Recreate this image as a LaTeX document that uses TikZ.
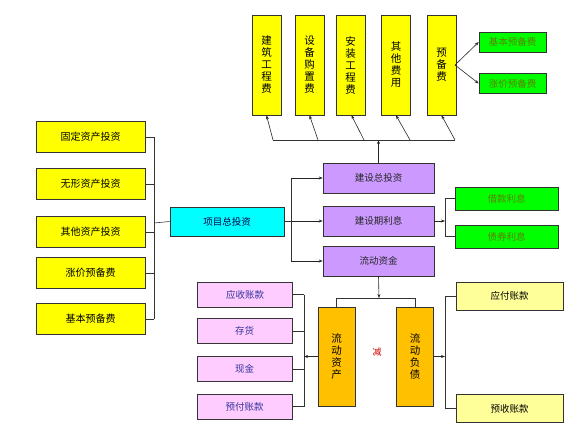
\documentclass[tikz,border=0pt]{standalone}
\usepackage{fontspec}
\newfontfamily\cjk{Noto Sans CJK SC}
\usepackage{tikz}
\usetikzlibrary{arrows.meta, positioning, calc}

\definecolor{amarillo}{HTML}{FFFF00}
\definecolor{amarilloclaro}{HTML}{FFFF99}
\definecolor{cian}{HTML}{00FFFF}
\definecolor{lila}{HTML}{CC99FF}
\definecolor{verde}{HTML}{00FF00}
\definecolor{rosa}{HTML}{FFCCFF}
\definecolor{naranja}{HTML}{FFC000}
\definecolor{textoverde}{HTML}{5F7F00}
\definecolor{textorosa}{HTML}{333399}

\begin{document}
\begin{tikzpicture}[
			x=1pt, y=-1pt,
			% estilos de cajas y flechas
			myarrow/.style={-{Stealth[length=4pt, width=3pt]}, line width=0.6pt, black!85},
			myline/.style={line width=0.6pt, black!80},
			box/.style={rectangle, draw=black!80, line width=0.6pt, inner sep=1pt, align=center, font=\cjk\fontsize{9.5}{11}\selectfont},
			costbox/.style={box, fill=amarillo, minimum width=29pt, minimum height=100pt, font=\cjk\fontsize{10.5}{12}\selectfont},
			leftbox/.style={box, fill=amarillo, minimum width=109pt, minimum height=31pt, font=\cjk\fontsize{10}{11}\selectfont},
			totalbox/.style={box, fill=cian, text=black!70!blue, minimum width=114pt, minimum height=29pt},
			midbox/.style={box, fill=lila, text=black!85, minimum width=111pt, minimum height=30pt},
			greenbox/.style={box, fill=verde, text=textoverde, minimum width=67pt, minimum height=20pt},
			interestbox/.style={box, fill=verde, text=textoverde, minimum width=103pt, minimum height=23pt},
			assetbox/.style={box, fill=rosa, text=textorosa, minimum width=95pt, minimum height=25pt},
			currentbox/.style={box, fill=naranja, minimum width=37pt, minimum height=99pt, font=\cjk\fontsize{10.5}{12}\selectfont},
			debtbox/.style={box, fill=amarilloclaro, minimum width=107pt, minimum height=28pt}
			]
			
			\useasboundingbox (0,0) rectangle (585,445);
			
			% fila superior
			\node[costbox] (jianzhu) at (266.5,65) {建\\筑\\工\\程\\费};
			\node[costbox] (shebei) at (309.5,65) {设\\备\\购\\置\\费};
			\node[costbox] (anzhuang) at (350.5,65) {安\\装\\工\\程\\费};
			\node[costbox] (qita) at (396,65) {其\\他\\费\\用};
			\node[costbox] (yubei) at (441.5,65) {预\\备\\费};
			\node[greenbox] (jiben) at (512.5,42) {基本预备费};
			\node[greenbox] (zhangjia) at (512.5,83.5) {涨价预备费};
			
			\coordinate (v) at (455,65);
			\draw[myline] (yubei.east) -- (v);
			\draw[myarrow] (v) -- (jiben.west);
			\draw[myarrow] (v) -- (zhangjia.west);
			
			\coordinate (t1) at (273,140);
			\coordinate (t2) at (318,140);
			\coordinate (t3) at (364,140);
			\coordinate (t4) at (410,140);
			\coordinate (t5) at (455,140);
			\draw[myline] (t1) -- (t5);
			\draw[myarrow] (t1) -- (jianzhu.south);
			\draw[myarrow] (t2) -- (shebei.south);
			\draw[myarrow] (t3) -- ([xshift=1pt]anzhuang.south);
			\draw[myarrow] (t4) -- (qita.south);
			\draw[myarrow] (t5) -- (yubei.south);
			
			% columna izquierda
			\node[leftbox] (guding) at (90.5,137) {固定资产投资};
			\node[leftbox] (wuxing) at (90.5,184) {无形资产投资};
			\node[leftbox] (qitazc) at (90.5,232) {其他资产投资};
			\node[leftbox] (zhangjia2) at (90.5,273) {涨价预备费};
			\node[leftbox] (jiben2) at (90.5,319) {基本预备费};
			\node[totalbox] (total) at (227,221.5) {项目总投资};
			
			\coordinate (la) at (154,137);
			\coordinate (lb) at (154,319);
			\coordinate (lc) at (154,223);
			\draw[myline] (la) -- (lb);
			\foreach \n in {guding, wuxing, qitazc, zhangjia2, jiben2}
				\draw[myline] (\n.east) -- (\n.east -| la);
			\draw[myline] (lc) -- (total.west);
			
			% columna central
			\node[midbox] (jianshe) at (378.5,178) {建设总投资};
			\node[midbox] (lixi) at (378.5,221) {建设期利息};
			\node[midbox] (liudong) at (378.5,261) {流动资金};
			
			\coordinate (ma) at (291,178);
			\coordinate (mb) at (291,261);
			\draw[myline] (total.east) -- (total.east -| ma);
			\draw[myline] (ma) -- (mb);
			\draw[myarrow] (ma) -- (jianshe.west);
			\draw[myarrow] (ma |- lixi.west) -- (lixi.west);
			\draw[myarrow] (mb) -- (liudong.west);
			\draw[myarrow] (jianshe.north) -- (jianshe.north |- t1);
			
			\node[interestbox] (jiekuan) at (506.5,198.5) {借款利息};
			\node[interestbox] (zhaiquan) at (506.5,236.5) {债券利息};
			\coordinate (ia) at (445,198.5);
			\coordinate (ib) at (445,236.5);
			\draw[myarrow] (lixi.east) -- (lixi.east -| ia);
			\draw[myline] (ia) -- (ib);
			\draw[myline] (ia) -- (jiekuan.west);
			\draw[myline] (ib) -- (zhaiquan.west);
			
			% parte inferior
			\node[currentbox] (zichan) at (336.5,356.5) {流\\动\\资\\产};
			\node[currentbox] (fuzhai) at (415,356.5) {流\\动\\负\\债};
			\node[text=red!80!black, font=\cjk\fontsize{9}{10}\selectfont] (jian) at (377,352) {减};
			
			\coordinate (ca) at (379,298);
			\draw[myarrow] (liudong.south) -- (ca);
			\draw[myline] (zichan.north) -- (zichan.north |- ca) -- (fuzhai.north |- ca) -- (fuzhai.north);
			
			\node[assetbox] (yingshou) at (245,294.5) {应收账款};
			\node[assetbox] (cunhuo) at (244.5,331) {存货};
			\node[assetbox] (xianjin) at (244.5,369) {现金};
			\node[assetbox] (yufu) at (244.5,406.5) {预付账款};
			\coordinate (pa) at (304,294.5);
			\coordinate (pb) at (304,406.5);
			\draw[myline] (pa) -- (pb);
			\foreach \n in {yingshou, cunhuo, xianjin, yufu}
				\draw[myline] (\n.east) -- (\n.east -| pa);
			\draw[myarrow] (zichan.west) -- (zichan.west -| pa);
			
			\node[debtbox] (yingfu) at (509.5,296) {应付账款};
			\node[debtbox] (yushou) at (509.5,408.5) {预收账款};
			\coordinate (da) at (445,296);
			\coordinate (db) at (445,408.5);
			\draw[myarrow] (fuzhai.east) -- (fuzhai.east -| da);
			\draw[myline] (da) -- (db);
			\draw[myline] (da) -- (yingfu.west);
			\draw[myline] (db) -- (yushou.west);
			
		\end{tikzpicture}
\end{document}
